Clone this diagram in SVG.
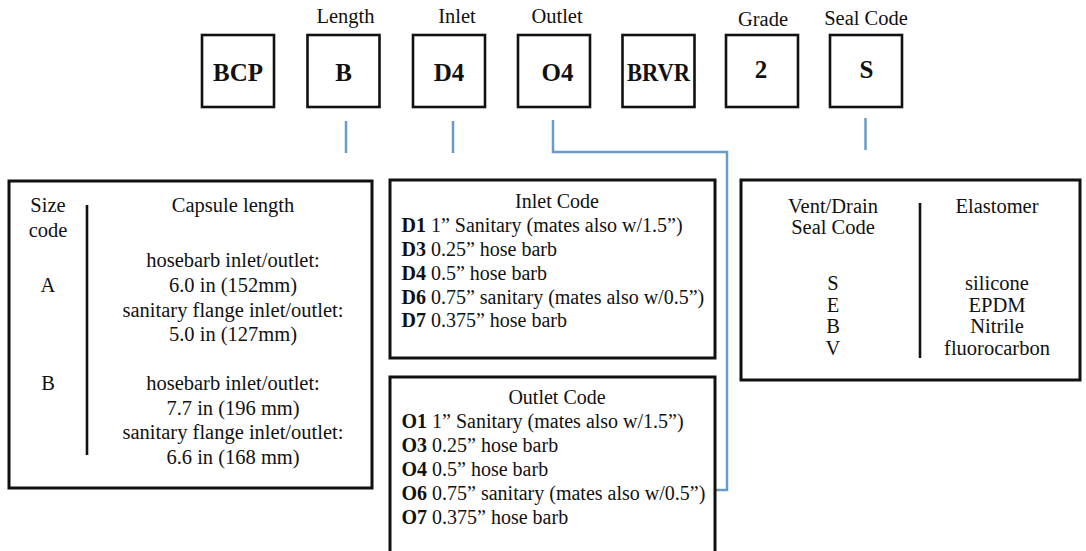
<svg xmlns="http://www.w3.org/2000/svg" width="1086" height="551" viewBox="0 0 1086 551">
<style>
text{font-family:"Liberation Serif","Times New Roman",serif;font-size:20.5px;fill:#111}
.lbl{text-anchor:middle}
.code{font-size:25px;font-weight:bold;text-anchor:middle}
.box{fill:#fff;stroke:#111;stroke-width:2.6}
.tbl{fill:#fff;stroke:#111;stroke-width:3}
.div{stroke:#111;stroke-width:2.6}
.conn{fill:none;stroke:#6a9bc7;stroke-width:2.5}
.c{text-anchor:middle}
.sm{font-size:20px}
.b{font-weight:bold}
</style>
<rect width="1086" height="551" fill="#fff"/>

<g id="labels">
<text class="lbl" x="345.5" y="23">Length</text>
<text class="lbl" x="457" y="23">Inlet</text>
<text class="lbl" x="557" y="23">Outlet</text>
<text class="lbl" x="763" y="26">Grade</text>
<text class="lbl" x="866" y="25">Seal Code</text>
</g>

<g id="node-bcp"><rect class="box" x="202" y="35" width="72" height="72"/><text class="code" x="238" y="81">BCP</text></g>
<g id="node-length"><rect class="box" x="307.5" y="35" width="72" height="72"/><text class="code" x="343.5" y="81">B</text></g>
<g id="node-inlet"><rect class="box" x="413" y="35" width="72" height="72"/><text class="code" x="449" y="81">D4</text></g>
<g id="node-outlet"><rect class="box" x="518" y="35" width="72" height="72"/><text class="code" x="557.5" y="81">O4</text></g>
<g id="node-brvr"><rect class="box" x="622.5" y="35" width="72" height="72"/><text class="code" x="658.5" y="81" textLength="63" lengthAdjust="spacingAndGlyphs">BRVR</text></g>
<g id="node-grade"><rect class="box" x="726" y="35" width="72" height="72"/><text class="code" x="761" y="78">2</text></g>
<g id="node-seal"><rect class="box" x="830" y="35" width="72" height="72"/><text class="code" x="866.5" y="78">S</text></g>

<g id="connectors">
<line class="conn" x1="346" y1="121" x2="346" y2="153"/>
<line class="conn" x1="453" y1="121" x2="453" y2="153"/>
<polyline class="conn" points="553,120 553,152 727,152 727,490 715,490"/>
<line class="conn" x1="865.5" y1="118" x2="865.5" y2="150"/>
</g>

<g id="table-length">
<rect class="tbl" x="9" y="181" width="363" height="307"/>
<line class="div" x1="87" y1="205" x2="87" y2="455"/>
<text class="c" x="48" y="212">Size</text>
<text class="c" x="48" y="236.5">code</text>
<text class="c" x="48" y="292">A</text>
<text class="c" x="48" y="390">B</text>
<text class="c" x="233" y="212">Capsule length</text>
<text class="c" x="233" y="267">hosebarb inlet/outlet:</text>
<text class="c" x="233" y="292">6.0 in (152mm)</text>
<text class="c" x="233" y="316.5">sanitary flange inlet/outlet:</text>
<text class="c" x="233" y="341">5.0 in (127mm)</text>
<text class="c" x="233" y="390">hosebarb inlet/outlet:</text>
<text class="c" x="233" y="414.5">7.7 in (196 mm)</text>
<text class="c" x="233" y="439">sanitary flange inlet/outlet:</text>
<text class="c" x="233" y="463.5">6.6 in (168 mm)</text>
</g>

<g id="table-inlet">
<rect class="tbl" x="390" y="180" width="325" height="178"/>
<text class="c sm" x="557" y="207.5">Inlet Code</text>
<text class="sm" x="401.5" y="231.5"><tspan class="b">D1</tspan> 1” Sanitary (mates also w/1.5”)</text>
<text class="sm" x="401.5" y="255.5"><tspan class="b">D3</tspan> 0.25” hose barb</text>
<text class="sm" x="401.5" y="279.5"><tspan class="b">D4</tspan> 0.5” hose barb</text>
<text class="sm" x="401.5" y="303.5"><tspan class="b">D6</tspan> 0.75” sanitary (mates also w/0.5”)</text>
<text class="sm" x="401.5" y="327"><tspan class="b">D7</tspan> 0.375” hose barb</text>
</g>

<g id="table-outlet">
<rect class="tbl" x="390" y="377" width="325" height="180"/>
<text class="c sm" x="557" y="403.5">Outlet Code</text>
<text class="sm" x="401.5" y="428"><tspan class="b">O1</tspan> 1” Sanitary (mates also w/1.5”)</text>
<text class="sm" x="401.5" y="452"><tspan class="b">O3</tspan> 0.25” hose barb</text>
<text class="sm" x="401.5" y="476"><tspan class="b">O4</tspan> 0.5” hose barb</text>
<text class="sm" x="401.5" y="500"><tspan class="b">O6</tspan> 0.75” sanitary (mates also w/0.5”)</text>
<text class="sm" x="401.5" y="524"><tspan class="b">O7</tspan> 0.375” hose barb</text>
</g>

<g id="table-seal">
<rect class="tbl" x="741" y="180" width="339" height="200"/>
<line class="div" x1="920" y1="203" x2="920" y2="358"/>
<text class="c" x="833" y="213">Vent/Drain</text>
<text class="c" x="833" y="234">Seal Code</text>
<text class="c" x="833" y="290">S</text>
<text class="c" x="833" y="311.5">E</text>
<text class="c" x="833" y="333">B</text>
<text class="c" x="833" y="354.5">V</text>
<text class="c" x="997" y="213">Elastomer</text>
<text class="c" x="997" y="290">silicone</text>
<text class="c" x="997" y="311.5">EPDM</text>
<text class="c" x="997" y="333">Nitrile</text>
<text class="c" x="997" y="354.5">fluorocarbon</text>
</g>
</svg>
